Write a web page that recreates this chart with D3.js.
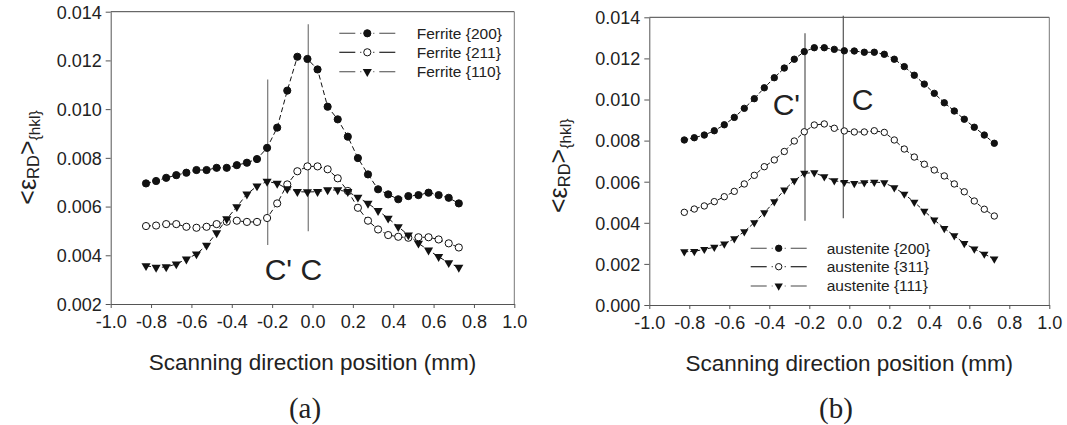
<!DOCTYPE html>
<html><head><meta charset="utf-8">
<script src="https://cdn.jsdelivr.net/npm/d3@7"></script>
<style>body{margin:0;background:#fff}svg{display:block}text{font-family:"Liberation Sans",Arial,sans-serif;fill:#222}</style>
</head><body>
<svg id="c" width="1067" height="425"></svg>
<script>
// ---- data ----
const positions = [-0.825,-0.775,-0.725,-0.675,-0.625,-0.575,-0.525,-0.475,-0.425,-0.375,-0.325,-0.275,-0.225,-0.175,-0.125,-0.075,-0.025,0.025,0.075,0.125,0.175,0.225,0.275,0.325,0.375,0.425,0.475,0.525,0.575,0.625,0.675,0.725];
const xTicks = [-1.0,-0.8,-0.6,-0.4,-0.2,0.0,0.2,0.4,0.6,0.8,1.0];
const yTicksA = [0.002,0.004,0.006,0.008,0.010,0.012,0.014];
const yTicksB = [0.000,0.002,0.004,0.006,0.008,0.010,0.012,0.014];

const ferrite200 = [0.00695,0.00705,0.00718,0.00729,0.00739,0.00750,0.00750,0.00759,0.00759,0.00770,0.00780,0.00795,0.00841,0.00924,0.01076,0.01215,0.01206,0.01163,0.01010,0.00958,0.00887,0.00799,0.00732,0.00671,0.00650,0.00630,0.00643,0.00647,0.00657,0.00647,0.00636,0.00613];
const ferrite211 = [0.00520,0.00522,0.00528,0.00528,0.00517,0.00513,0.00517,0.00528,0.00538,0.00542,0.00537,0.00537,0.00553,0.00613,0.00691,0.00745,0.00765,0.00765,0.00753,0.00716,0.00664,0.00595,0.00542,0.00506,0.00483,0.00476,0.00472,0.00474,0.00474,0.00465,0.00449,0.00432];
const ferrite110 = [0.00357,0.00350,0.00352,0.00364,0.00384,0.00405,0.00441,0.00492,0.00549,0.00599,0.00651,0.00684,0.00703,0.00695,0.00673,0.00661,0.00660,0.00661,0.00668,0.00668,0.00661,0.00638,0.00613,0.00583,0.00552,0.00517,0.00483,0.00449,0.00421,0.00394,0.00369,0.00350];

const austenite200 = [0.00803,0.00814,0.00827,0.00848,0.00877,0.00913,0.00957,0.01004,0.01057,0.01106,0.01153,0.01196,0.01233,0.01252,0.01252,0.01244,0.01237,0.01236,0.01230,0.01230,0.01220,0.01196,0.01160,0.01118,0.01075,0.01030,0.00984,0.00944,0.00904,0.00865,0.00827,0.00787];
const austenite311 = [0.00451,0.00467,0.00482,0.00503,0.00527,0.00553,0.00589,0.00631,0.00673,0.00706,0.00747,0.00798,0.00843,0.00876,0.00881,0.00860,0.00847,0.00842,0.00842,0.00848,0.00840,0.00803,0.00759,0.00720,0.00685,0.00657,0.00628,0.00589,0.00551,0.00506,0.00466,0.00433];
const austenite111 = [0.00259,0.00261,0.00271,0.00281,0.00297,0.00323,0.00357,0.00401,0.00449,0.00503,0.00560,0.00605,0.00641,0.00644,0.00624,0.00605,0.00597,0.00592,0.00595,0.00598,0.00595,0.00571,0.00540,0.00500,0.00457,0.00414,0.00373,0.00337,0.00300,0.00273,0.00248,0.00224];

const namesA = ["Ferrite {200}","Ferrite {211}","Ferrite {110}"];
const namesB = ["austenite {200}","austenite {311}","austenite {111}"];
const markerTypes = ["filled","open","triangle"];

// reference lines C' and C: [x, yFrom, yTo]
const cLinesA = [[-0.222,0.00442,0.01122],[-0.021,0.00499,0.01348]];
const cLinesB = [[-0.2215,0.00410,0.01322],[-0.030,0.00422,0.01408]];
const cLabelsA = [{t:"C' C",x:-0.237,y:0.00298}];
const cLabelsB = [{t:"C'",x:-0.383,y:0.00925},{t:"C",x:0.012,y:0.00949}];

const svg = d3.select("#c");
const fmtX = d => d3.format(".1f")(d).replace("\u2212","-");
const fmtY = d => d3.format(".3f")(d).replace("\u2212","-");

function panel(o){
  const x = d3.scaleLinear().domain([-1,1]).range([o.x0,o.x1]);
  const y = d3.scaleLinear().domain(o.yDomain).range([o.y0,o.y1]);
  const g = svg.append("g");
  // frame top/right
  g.append("line").attr("x1",o.x0).attr("x2",o.x1).attr("y1",o.y1).attr("y2",o.y1).attr("stroke","#444").attr("stroke-width",1);
  g.append("line").attr("x1",o.x1).attr("x2",o.x1).attr("y1",o.y1).attr("y2",o.y0).attr("stroke","#777").attr("stroke-width",1);
  // axes
  const ax = g.append("g").attr("transform",`translate(0,${o.y0})`)
    .call(d3.axisBottom(x).tickValues(xTicks).tickFormat(fmtX).tickSize(4).tickSizeOuter(0));
  const ay = g.append("g").attr("transform",`translate(${o.x0},0)`)
    .call(d3.axisLeft(y).tickValues(o.yTicks).tickFormat(fmtY).tickSize(5).tickSizeOuter(0));
  [ax,ay].forEach(a=>{
    a.select(".domain").attr("stroke","#555");
    a.selectAll(".tick line").attr("stroke","#555");
    a.selectAll("text").style("font-family",'"Liberation Sans",Arial,sans-serif').style("font-size","18px").attr("fill","#222");
  });
  ax.selectAll("text").attr("dy","0.95em").attr("y",7);
  ay.selectAll("text").attr("x",-9).attr("dy","0.35em");
  // titles
  g.append("text").attr("x",(o.x0+o.x1)/2).attr("y",o.y0+66).attr("text-anchor","middle")
    .style("font-size","22.5px").text("Scanning direction position (mm)");
  g.append("text").attr("x",o.capX).attr("y",418).attr("text-anchor","middle")
    .style("font-family",'"Liberation Serif","Times New Roman",serif').style("font-size","29px").text(o.cap);
  const yl = g.append("text").attr("transform",`translate(${o.ylx},${o.yly}) rotate(-90)`).attr("text-anchor","middle").style("font-size","25px");
  yl.append("tspan").text("<ε");
  yl.append("tspan").attr("dy",3).style("font-size","16.5px").text("RD");
  yl.append("tspan").attr("dy",-3).text(">");
  yl.append("tspan").attr("dy",4).style("font-size","15.5px").text("{hkl}");
  // C lines
  g.selectAll(".cl").data(o.cLines).enter().append("line")
    .attr("x1",d=>x(d[0])).attr("x2",d=>x(d[0])).attr("y1",d=>y(d[1])).attr("y2",d=>y(d[2]))
    .attr("stroke",o.cColor).attr("stroke-width",1.2);
  g.selectAll(".ct").data(o.cLabels).enter().append("text")
    .attr("x",d=>x(d.x)).attr("y",d=>y(d.y)).style("font-size","30px").text(d=>d.t);
  // series lines
  const line = d3.line().x((d,i)=>x(positions[i])).y(d=>y(d));
  o.series.forEach((s,k)=>{
    g.append("path").datum(s).attr("d",line).attr("fill","none").attr("stroke","#111")
      .attr("stroke-width",1).attr("stroke-dasharray",o.dash);
  });
  // markers
  o.series.forEach((s,k)=>{
    const pts = g.selectAll(null).data(s).enter().append("g")
      .attr("transform",(d,i)=>`translate(${x(positions[i])},${y(d)})`);
    if(markerTypes[k]==="triangle"){
      pts.append("path").attr("d",d3.symbol(d3.symbolTriangle,o.triSize)()).attr("transform","rotate(180)").attr("fill","#111");
    } else {
      pts.append("circle").attr("r",o.r).attr("fill",markerTypes[k]==="filled"?"#111":"#fff").attr("stroke","#111").attr("stroke-width",1);
    }
  });
  // legend
  o.names.forEach((n,k)=>{
    const ly = o.legY[k], lx = o.legX, w = 56, m = lx + w/2;
    const lg = g.append("g");
    [[lx,lx+16],[lx+21,m-6],[m+6,lx+w-21],[lx+w-16,lx+w]].forEach(s=>{
      lg.append("line").attr("x1",s[0]).attr("x2",s[1]).attr("y1",ly).attr("y2",ly).attr("stroke",k===1?"#222":"#666").attr("stroke-width",1.2);
    });
    const mk = lg.append("g").attr("transform",`translate(${m},${ly})`);
    if(markerTypes[k]==="triangle"){
      mk.append("path").attr("d",d3.symbol(d3.symbolTriangle,o.triSize)()).attr("transform","rotate(180)").attr("fill","#111");
    } else {
      mk.append("circle").attr("r",o.r).attr("fill",markerTypes[k]==="filled"?"#111":"#fff").attr("stroke","#111");
    }
    lg.append("text").attr("x",o.legTextX).attr("y",ly).attr("dy","0.35em").style("font-size","15.5px").text(n);
  });
}

panel({x0:110.7,x1:514.3,y0:304,y1:11.7,yDomain:[0.002,0.014],yTicks:yTicksA,
  series:[ferrite200,ferrite211,ferrite110],names:namesA,legX:339.3,legTextX:416.7,legY:[33.3,52.3,71.7],
  cLines:cLinesA,cLabels:cLabelsA,cColor:"#777",r:3.6,triSize:36,dash:"5,3",
  ylx:36,yly:157.5,cap:"(a)",capX:305});
panel({x0:649.3,x1:1049.3,y0:305,y1:17.3,yDomain:[0.0,0.014],yTicks:yTicksB,
  series:[austenite200,austenite311,austenite111],names:namesB,legX:750.7,legTextX:826.7,legY:[248.3,266.7,286],
  cLines:cLinesB,cLabels:cLabelsB,cColor:"#555",r:3.2,triSize:30,dash:"4,2",
  ylx:567,yly:165.8,cap:"(b)",capX:836});
</script>
</body></html>
